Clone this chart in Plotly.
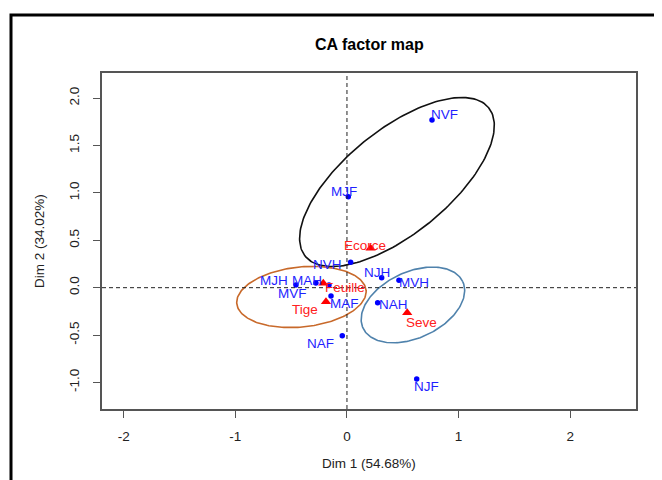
import numpy as np
import plotly.graph_objects as go

# ---- data ----
row_names = ["NVF", "MJF", "NVH", "NJH", "MVH", "MJH", "MAH", "MVF", "MAF", "NAH", "NAF", "NJF"]
row_dim1 = [0.762, 0.012, 0.033, 0.311, 0.466, -0.457, -0.278, -0.161, -0.143, 0.275, -0.042, 0.625]
row_dim2 = [1.769, 0.960, 0.268, 0.105, 0.078, 0.028, 0.050, 0.028, -0.087, -0.158, -0.506, -0.963]

col_names = ["Ecorce", "Feuille", "Tige", "Seve"]
col_dim1 = [0.212, -0.212, -0.188, 0.540]
col_dim2 = [0.416, 0.046, -0.148, -0.264]

x_ticks = [-2, -1, 0, 1, 2]
y_ticks = [-1.0, -0.5, 0.0, 0.5, 1.0, 1.5, 2.0]
y_tick_labels = ["-1.0", "-0.5", "0.0", "0.5", "1.0", "1.5", "2.0"]

# ellipses: centre (data), semi-axes (px), angle (deg)
ell_cx = [0.448, -0.408, 0.591]
ell_cy = [1.115, -0.098, -0.182]
ell_a = [118, 65, 55]
ell_b = [52, 30, 33]
ell_ang = [39, 6, 25]
ell_col = ["#111111", "#C8692A", "#4F82AC"]

# ---- layout geometry (page has an 8px body offset) ----
OFF = 8
W, H = 662, 480
ML, MT = 102 - OFF, 73 - OFF
MR, MB = W - (636 - OFF), H - (409 - OFF)
XR = [-2.195, 2.59]
YR = [-1.28, 2.265]
pw, ph = W - ML - MR, H - MT - MB
sx = pw / (XR[1] - XR[0])
sy = ph / (YR[1] - YR[0])


def py2paper(ypix):
    return (H - MB - (ypix - OFF)) / ph


def px2paper(xpix):
    return ((xpix - OFF) - ML) / pw


FONT = "Liberation Sans, Arial, sans-serif"
FS = 13.5

# label offsets in px (dx right, dy up)
row_off = {"NVF": (12, 6), "MJF": (-4, 5), "NVH": (-23, -2), "NJH": (-5, 5), "MVH": (15, -2),
           "MJH": (-22, 5), "MAH": (-9, 2), "MVF": (-36, -8), "MAF": (13, -8), "NAH": (16, -2),
           "NAF": (-22, -8), "NJF": (10, -8)}
col_off = {"Ecorce": (-6, 3), "Feuille": (22, -4), "Tige": (-21, -8), "Seve": (14, -10)}

fig = go.Figure()

# ellipses
phi = np.linspace(0, 2 * np.pi, 200)
for cx, cy, a, b, ang, c in zip(ell_cx, ell_cy, ell_a, ell_b, ell_ang, ell_col):
    t = np.deg2rad(ang)
    px = a * np.cos(phi) * np.cos(t) - b * np.sin(phi) * np.sin(t)
    py = a * np.cos(phi) * np.sin(t) + b * np.sin(phi) * np.cos(t)
    fig.add_trace(go.Scatter(x=cx + px / sx, y=cy + py / sy, mode="lines",
                             line=dict(color=c, width=1.6), hoverinfo="skip", showlegend=False))

fig.add_trace(go.Scatter(x=row_dim1, y=row_dim2, mode="markers",
                         marker=dict(color="#0000FF", size=5.5), showlegend=False))
fig.add_trace(go.Scatter(x=col_dim1, y=col_dim2, mode="markers",
                         marker=dict(color="#FF0000", size=9, symbol="triangle-up"), showlegend=False))

ann = []
for n, x, y in zip(row_names, row_dim1, row_dim2):
    dx, dy = row_off[n]
    ann.append(dict(x=x, y=y, text=n, showarrow=False, xshift=dx, yshift=dy,
                    font=dict(color="#1F1FFF", size=FS, family=FONT)))
for n, x, y in zip(col_names, col_dim1, col_dim2):
    dx, dy = col_off[n]
    ann.append(dict(x=x, y=y, text=n, showarrow=False, xshift=dx, yshift=dy,
                    font=dict(color="#FF2020", size=FS, family=FONT)))

# title and axis titles
ann.append(dict(x=0.5, xref="paper", y=py2paper(44), yref="paper", text="<b>CA factor map</b>",
                showarrow=False, yanchor="middle", font=dict(size=16, color="#000", family=FONT)))
ann.append(dict(x=0.5, xref="paper", y=py2paper(463), yref="paper", text="Dim 1 (54.68%)",
                showarrow=False, yanchor="middle", font=dict(size=FS, color="#222", family=FONT)))
ann.append(dict(x=px2paper(39), xref="paper", y=0.5, yref="paper", text="Dim 2 (34.02%)",
                showarrow=False, textangle=-90, xanchor="center", font=dict(size=FS, color="#222", family=FONT)))

shapes = [
    dict(type="line", xref="x", yref="paper", x0=0, x1=0, y0=0, y1=1,
         line=dict(color="#222", width=1, dash="4px,3px")),
    dict(type="line", xref="paper", yref="y", x0=0, x1=1, y0=0, y1=0,
         line=dict(color="#222", width=1, dash="4px,3px")),
    # outer frame
    dict(type="rect", xref="paper", yref="paper",
         x0=px2paper(11), x1=px2paper(W + 20),
         y0=py2paper(H + 20), y1=py2paper(15),
         line=dict(color="#000", width=3)),
]

axis_common = dict(showgrid=False, zeroline=False, showline=True, mirror=True,
                   linecolor="#555", linewidth=1.5, ticks="outside", ticklen=7,
                   tickcolor="#555", tickwidth=1.2,
                   tickfont=dict(size=FS, color="#222", family=FONT))

fig.update_layout(
    width=W, height=H,
    margin=dict(l=ML, r=MR, t=MT, b=MB),
    paper_bgcolor="white", plot_bgcolor="white",
    xaxis=dict(range=XR, tickvals=x_ticks, ticktext=[str(v) for v in x_ticks],
               ticklabelstandoff=7, **axis_common),
    yaxis=dict(range=YR, tickvals=y_ticks, ticktext=y_tick_labels, tickangle=-90,
               ticklabelstandoff=9, **axis_common),
    annotations=ann, shapes=shapes, showlegend=False,
    font=dict(family=FONT),
)

fig.write_html("out.html")
